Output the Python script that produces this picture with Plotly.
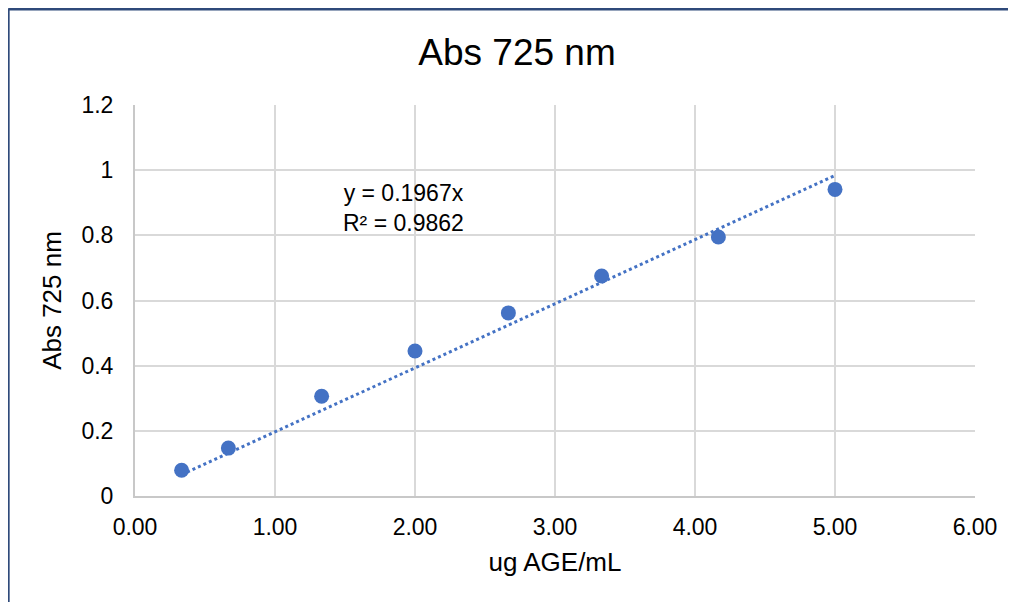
import numpy as np
import plotly.graph_objects as go

# concentrations (ug AGE/mL) and absorbance readings
conc = [0.333, 0.667, 1.333, 2.0, 2.667, 3.333, 4.167, 5.0]
absorb = [0.079, 0.147, 0.306, 0.445, 0.562, 0.675, 0.795, 0.941]

SLOPE = 0.1967
R2 = 0.9862

BLUE = "#4472C4"
GRID = "#d9d9d9"
FONT = "Liberation Sans, Arial, sans-serif"

fig = go.Figure()

# linear trendline through the origin (dotted, Excel style)
tx = np.array([conc[0], conc[-1]])
fig.add_trace(go.Scatter(
    x=tx, y=SLOPE * tx,
    mode="lines",
    line=dict(color=BLUE, width=3, dash="dot"),
    hoverinfo="skip", showlegend=False,
))

fig.add_trace(go.Scatter(
    x=conc, y=absorb,
    mode="markers",
    marker=dict(color=BLUE, size=15),
    showlegend=False,
))

fig.add_annotation(
    x=1.92, y=0.884, xref="x", yref="y",
    text=f"y = {SLOPE}x<br>R² = {R2}",
    showarrow=False,
    font=dict(family=FONT, size=23, color="#000000"),
)

# dark blue frame of the chart object (top and left edges only visible)
frame = dict(color="#2f4a7a", width=3)
fig.add_shape(type="line", xref="paper", yref="paper",
              x0=-0.151, y0=1.2455, x1=1.07, y1=1.2455, line=frame)
fig.add_shape(type="line", xref="paper", yref="paper",
              x0=-0.151, y0=1.2455, x1=-0.151, y1=-0.30, line=frame)

fig.update_layout(
    title=dict(
        text="Abs 725 nm",
        x=0.505, xanchor="center",
        y=0.926, yanchor="middle",
        font=dict(family=FONT, size=37, color="#000000"),
    ),
    paper_bgcolor="white",
    plot_bgcolor="white",
    font=dict(family=FONT, color="#000000"),
    xaxis=dict(
        range=[0, 6], dtick=1, tickformat=".2f",
        showgrid=True, gridcolor=GRID, gridwidth=1.5,
        zeroline=False,
        showline=True, linecolor="#c8c8c8", linewidth=2,
        ticks="outside", ticklen=9, tickcolor="white",
        tickfont=dict(family=FONT, size=23),
        title=dict(text="ug AGE/mL", font=dict(family=FONT, size=26), standoff=14),
    ),
    yaxis=dict(
        range=[0, 1.2], dtick=0.2,
        showgrid=True, gridcolor=GRID, gridwidth=1.5,
        zeroline=False,
        showline=True, linecolor="#c8c8c8", linewidth=2,
        ticks="outside", ticklen=15, tickcolor="white",
        tickfont=dict(family=FONT, size=23),
        title=dict(text="Abs 725 nm", font=dict(family=FONT, size=26), standoff=12),
    ),
    margin=dict(l=127, r=41, t=97, b=106),
    width=1008, height=594,
)

fig.write_html("out.html")
